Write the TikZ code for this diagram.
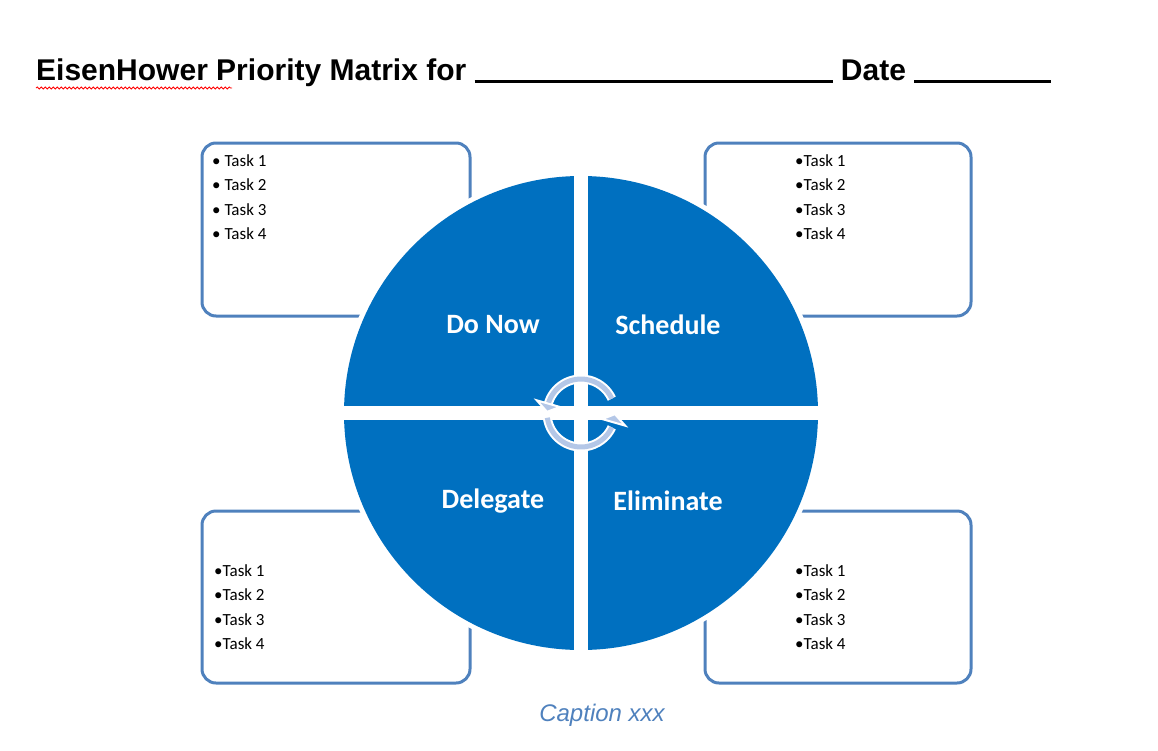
\documentclass[tikz,border=0pt]{standalone}
\usepackage{fontspec}
\setmainfont{Liberation Sans}
\newfontfamily\calfont{Carlito}
\usetikzlibrary{decorations.pathmorphing,arrows.meta,calc}
\definecolor{qblue}{HTML}{0070C0}
\definecolor{bline}{HTML}{4F81BD}
\definecolor{arr}{HTML}{B4C7E7}
\tikzset{x=1pt,y=-1pt,
 tbox/.style={draw=bline,line width=3,rounded corners=14},
 task/.style={anchor=north west,align=left,font=\calfont\fontsize{17}{24.5}\selectfont,inner sep=0},
 qlab/.style={font=\calfont\bfseries\fontsize{28}{30}\selectfont,text=white},
 cyc/.style={line width=9,draw=white},
 cycin/.style={line width=5,draw=arr}}
\begin{document}
\begin{tikzpicture}
\useasboundingbox (0,0) rectangle (1158,750);
\node[anchor=base west,inner sep=0,font=\bfseries\fontsize{30}{32}\selectfont] (title) at (36,80) {EisenHower Priority Matrix for \rule[-3pt]{358pt}{3pt} Date \rule[-3pt]{137pt}{3pt}};
\draw[red,line width=0.8,decorate,decoration={snake,amplitude=1,segment length=4}] (36,88) -- (232,88);
\draw[tbox] (202,143) rectangle (470,316);
\draw[tbox] (705,143) rectangle (971,316);
\draw[tbox] (202,511) rectangle (470,683);
\draw[tbox] (705,511) rectangle (971,683);
\node[task] (t1) at (212,154) {\textbullet\ Task 1\\\textbullet\ Task 2\\\textbullet\ Task 3\\\textbullet\ Task 4};
\node[task] (t2) at (795,154) {\textbullet Task 1\\\textbullet Task 2\\\textbullet Task 3\\\textbullet Task 4};
\node[task] (t3) at (214,564) {\textbullet Task 1\\\textbullet Task 2\\\textbullet Task 3\\\textbullet Task 4};
\node[task] (t4) at (795,564) {\textbullet Task 1\\\textbullet Task 2\\\textbullet Task 3\\\textbullet Task 4};
\coordinate (c) at (581,413);
\draw[white,line width=10] (c) circle (237);
\fill[qblue] (c) circle (237);
\begin{scope}
\clip (c) circle (238);
\fill[white] (574,150) rectangle (588,680);
\fill[white] (330,406) rectangle (830,420);
\end{scope}
\node[qlab] (q1) at (493,325) {Do Now};
\node[qlab] (q2) at (668,325) {Schedule};
\node[qlab] (q3) at (493,501) {Delegate};
\node[qlab] (q4) at (668,501) {Eliminate};
\draw[cyc] (c) ++(172:34) arc (172:25:34);
\draw[cycin] (c) ++(172:34) arc (172:25:34);
\draw[cyc] (c) ++(-172:34) arc (-172:-25:34);
\draw[cycin] (c) ++(-172:34) arc (-172:-25:34);
\fill[arr,draw=white,line width=2] ($(c)+(16:22)$) -- ($(c)+(16:46)$) -- ($(c)+(2:34)$) -- cycle;
\fill[arr,draw=white,line width=2] ($(c)+(196:22)$) -- ($(c)+(196:46)$) -- ($(c)+(182:34)$) -- cycle;
\node[font=\itshape\fontsize{24}{26}\selectfont,text=bline] (cap) at (602,715) {Caption xxx};
\end{tikzpicture}
\end{document}
